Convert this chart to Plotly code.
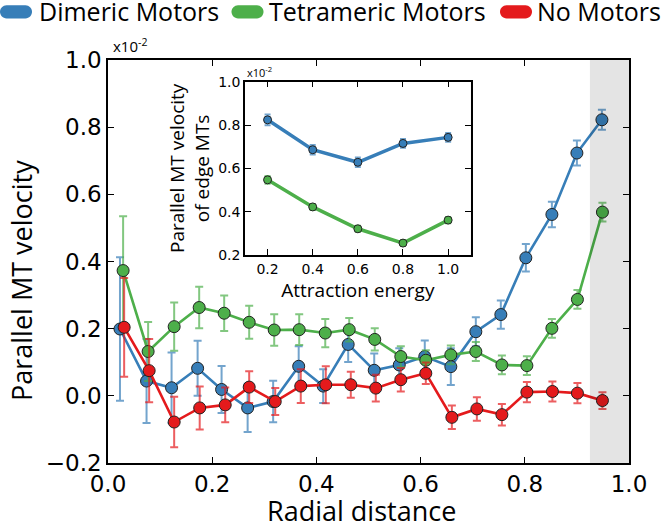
import plotly.graph_objects as go

# ---------------- data ----------------
x_dim = [0.023, 0.074, 0.122, 0.172, 0.218, 0.268, 0.317, 0.366, 0.413, 0.461,
         0.511, 0.559, 0.608, 0.658, 0.706, 0.754, 0.802, 0.852, 0.900, 0.948]
y_dim = [0.199, 0.044, 0.024, 0.082, 0.019, -0.036, -0.017, 0.088, 0.029, 0.153,
         0.076, 0.092, 0.117, 0.087, 0.191, 0.242, 0.411, 0.540, 0.723, 0.822]
e_dim = [0.214, 0.125, 0.105, 0.082, 0.070, 0.072, 0.062, 0.060, 0.050, 0.052,
         0.050, 0.050, 0.048, 0.055, 0.043, 0.042, 0.041, 0.038, 0.037, 0.030]

x_tet = [0.029, 0.077, 0.127, 0.175, 0.223, 0.271, 0.319, 0.367, 0.417, 0.463,
         0.512, 0.562, 0.610, 0.658, 0.706, 0.756, 0.804, 0.852, 0.901, 0.949]
y_tet = [0.373, 0.132, 0.206, 0.263, 0.246, 0.219, 0.196, 0.197, 0.187, 0.197,
         0.168, 0.117, 0.106, 0.122, 0.132, 0.092, 0.090, 0.201, 0.287, 0.547]
e_tet = [0.162, 0.088, 0.072, 0.062, 0.053, 0.049, 0.047, 0.046, 0.042, 0.035,
         0.033, 0.031, 0.030, 0.028, 0.028, 0.028, 0.028, 0.028, 0.028, 0.028]

x_no = [0.031, 0.079, 0.127, 0.176, 0.225, 0.271, 0.321, 0.370, 0.418, 0.466,
        0.514, 0.562, 0.610, 0.660, 0.708, 0.756, 0.804, 0.853, 0.901, 0.949]
y_no = [0.204, 0.075, -0.078, -0.036, -0.027, 0.026, -0.017, 0.029, 0.033, 0.033,
        0.023, 0.048, 0.067, -0.064, -0.039, -0.056, 0.011, 0.013, 0.008, -0.014]
e_no = [0.147, 0.094, 0.075, 0.064, 0.052, 0.047, 0.040, 0.050, 0.055, 0.039,
        0.040, 0.035, 0.032, 0.035, 0.035, 0.032, 0.030, 0.030, 0.030, 0.025]

energy = [0.2, 0.4, 0.6, 0.8, 1.0]
in_dim = [0.824, 0.686, 0.628, 0.715, 0.743]
in_dim_err = [0.025, 0.022, 0.022, 0.020, 0.020]
in_tet = [0.547, 0.422, 0.321, 0.255, 0.361]
in_tet_err = [0.018, 0.014, 0.014, 0.012, 0.014]

names = ["Dimeric Motors", "Tetrameric Motors", "No Motors"]
colors = ["#377eb8", "#4daf4a", "#e41a1c"]
err_colors = ["rgba(55,126,184,0.7)", "rgba(77,175,74,0.7)", "rgba(228,26,28,0.7)"]

band_start = 0.925

# ---------------- figure ----------------
TICKF = dict(family="DejaVu Sans", size=23, color="black")
TITLEF = dict(family="Open Sans", size=27, color="black")

fig = go.Figure()
series = [(x_dim, y_dim, e_dim), (x_tet, y_tet, e_tet), (x_no, y_no, e_no)]
for (xs, ys, es), c, ec, n in zip(series, colors, err_colors, names):
    fig.add_trace(go.Scatter(
        x=xs, y=ys, mode="lines+markers", name=n, showlegend=False,
        line=dict(color=c, width=2.6),
        marker=dict(size=12, color=c, line=dict(color="#222222", width=1)),
        error_y=dict(type="data", array=es, color=ec, thickness=2, width=4),
    ))

for ys, es, c, ec, n in [(in_dim, in_dim_err, colors[0], err_colors[0], names[0]),
                         (in_tet, in_tet_err, colors[1], err_colors[1], names[1])]:
    fig.add_trace(go.Scatter(
        x=energy, y=ys, mode="lines+markers", name=n, showlegend=False,
        xaxis="x2", yaxis="y2",
        line=dict(color=c, width=3.5),
        marker=dict(size=8, color=c, line=dict(color="#222222", width=1)),
        error_y=dict(type="data", array=es, color=ec, thickness=2, width=3),
    ))

axis_common = dict(showgrid=False, zeroline=False, showline=True, linecolor="black",
                   linewidth=1.5, mirror="ticks", ticks="inside", ticklen=6,
                   tickcolor="black", tickwidth=1.2)

W, H = 661, 525
L, R, T, B = 108, 32, 60, 62
pw, ph = W - L - R, H - T - B

def px(x):
    return (x - L) / pw

def py(y):
    return (H - B - y) / ph

shapes = [
    # gray band near the edge
    dict(type="rect", xref="x", yref="paper", x0=band_start, x1=1.0, y0=0, y1=1,
         fillcolor="rgba(0,0,0,0.105)", line=dict(width=0), layer="above"),
    # inset background
    dict(type="rect", xref="x2 domain", yref="y2 domain", x0=0, x1=1, y0=0, y1=1,
         fillcolor="#e5e5e5", line=dict(width=0), layer="below"),
]

pill = ("M -9.5,-6.6 L 9.5,-6.6 C 13.1,-6.6 16,-3.6 16,0 C 16,3.6 13.1,6.6 9.5,6.6 "
        "L -9.5,6.6 C -13.1,6.6 -16,3.6 -16,0 C -16,-3.6 -13.1,-6.6 -9.5,-6.6 Z")
legend_pos = [(16, 37), (247.5, 267), (516, 535)]
annotations = []
for (cx, tx), c, n in zip(legend_pos, colors, names):
    shapes.append(dict(type="path", xref="paper", yref="paper",
                       xsizemode="pixel", ysizemode="pixel",
                       xanchor=px(cx), yanchor=py(11.8), path=pill,
                       fillcolor=c, line=dict(width=0)))
    annotations.append(dict(xref="paper", yref="paper", x=px(tx), y=py(11),
                            xanchor="left", yanchor="middle", showarrow=False,
                            text=n, font=dict(family="Open Sans", size=25, color="black")))

annotations.append(dict(xref="paper", yref="paper", x=px(111), y=py(58),
                        xanchor="left", yanchor="bottom", showarrow=False,
                        text="x10<sup>-2</sup>",
                        font=dict(family="Open Sans", size=15, color="black")))
annotations.append(dict(xref="x2 domain", yref="y2 domain", x=0.0, y=1.0,
                        xanchor="left", yanchor="bottom", showarrow=False,
                        text="x10<sup>-2</sup>",
                        font=dict(family="Open Sans", size=11, color="black")))
# main axis titles
annotations.append(dict(xref="paper", yref="paper", x=px(361), y=py(510),
                        xanchor="center", yanchor="middle", showarrow=False,
                        text="Radial distance", font=TITLEF))
annotations.append(dict(xref="paper", yref="paper", x=px(21), y=py(281),
                        xanchor="center", yanchor="middle", showarrow=False,
                        textangle=-90, text="Parallel MT velocity", font=TITLEF))

fig.update_layout(
    width=W, height=H,
    margin=dict(l=L, r=R, t=T, b=B, pad=0),
    paper_bgcolor="white", plot_bgcolor="white",
    showlegend=False,
    xaxis=dict(domain=[0, 1], range=[0, 1.0], tickvals=[0, 0.2, 0.4, 0.6, 0.8, 1.0],
               tickformat=".1f", tickfont=TICKF, **axis_common),
    yaxis=dict(domain=[0, 1], range=[-0.2, 1.0],
               tickvals=[-0.2, 0, 0.2, 0.4, 0.6, 0.8, 1.0],
               tickformat=".1f", tickfont=TICKF, **axis_common),
    xaxis2=dict(domain=[px(245), px(470.7)], anchor="y2", range=[0.1, 1.1],
                tickvals=[0.2, 0.4, 0.6, 0.8, 1.0], tickformat=".1f",
                tickfont=dict(family="DejaVu Sans", size=14, color="black"),
                title=dict(text="Attraction energy",
                           font=dict(family="Open Sans", size=19, color="black"),
                           standoff=2),
                **axis_common),
    yaxis2=dict(domain=[py(255), py(81.7)], anchor="x2", range=[0.2, 1.0],
                tickvals=[0.2, 0.4, 0.6, 0.8, 1.0], tickformat=".1f",
                tickfont=dict(family="DejaVu Sans", size=14, color="black"),
                title=dict(text="Parallel MT velocity<br>of edge MTs",
                           font=dict(family="Open Sans", size=19, color="black"),
                           standoff=4),
                **axis_common),
    shapes=shapes,
    annotations=annotations,
)

fig.write_html("out.html", config={"displayModeBar": False},
               post_script="document.body.style.margin='0px';")
